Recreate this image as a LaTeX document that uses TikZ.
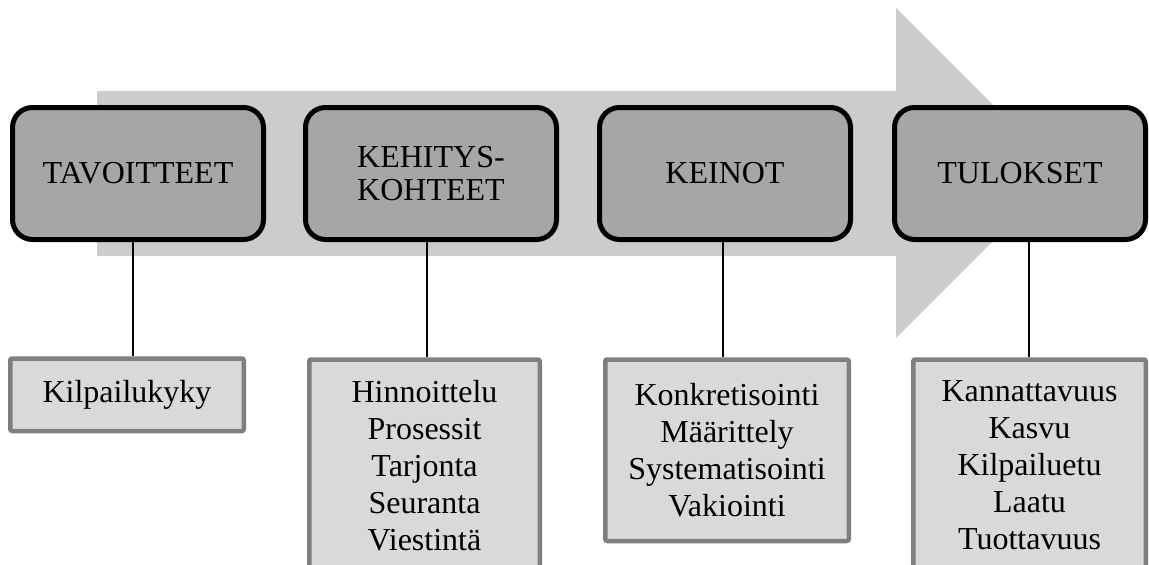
\documentclass[tikz,border=0pt]{standalone}
\usepackage{fontspec}
\setmainfont{Liberation Serif}
\begin{document}
\begin{tikzpicture}[x=1pt,y=-1pt,
  phase/.style={draw=black, line width=5pt, fill=phasegray, rounded corners=20pt,
    minimum width=251pt, minimum height=132pt, align=center, inner sep=0pt,
    font=\fontsize{32}{33}\selectfont},
  itembox/.style={draw=itemedge, line width=4.5pt, fill=itemfill, rounded corners=2pt,
    align=center, inner sep=0pt, anchor=north,
    font=\fontsize{32}{37}\selectfont},
  link/.style={draw=black, line width=1.6pt}]
\definecolor{arrowgray}{HTML}{CCCCCC}
\definecolor{phasegray}{HTML}{A6A6A6}
\definecolor{itemfill}{HTML}{D9D9D9}
\definecolor{itemedge}{HTML}{7F7F7F}
\useasboundingbox (0,0) rectangle (1149,565);
\clip (0,0) rectangle (1149,565);

% background process arrow
\fill[arrowgray] (97,91) -- (896,91) -- (896,8) -- (1061,173) -- (896,338)
  -- (896,256) -- (97,256) -- cycle;

% phase boxes
\node[phase] (tav) at (138,173.5) {TAVOITTEET};
\node[phase] (keh) at (431,173.5) {KEHITYS-\\KOHTEET};
\node[phase] (kei) at (725,173.5) {KEINOT};
\node[phase] (tul) at (1020,173.5) {TULOKSET};

% detail boxes
\node[itembox, minimum width=233.5pt, minimum height=72.5pt] (kil) at (127,356.25)
  {Kilpailukyky};
\node[itembox, minimum width=230.5pt, minimum height=212pt] (hin) at (424.5,357.25)
  {Hinnoittelu\\Prosessit\\Tarjonta\\Seuranta\\Viestintä};
\node[itembox, minimum width=243.5pt, minimum height=181.5pt] (kon) at (727,357.25)
  {Konkretisointi\\Määrittely\\Systematisointi\\Vakiointi};
\node[itembox, minimum width=232.5pt, minimum height=212pt] (kan) at (1029.5,357.25)
  {Kannattavuus\\Kasvu\\Kilpailuetu\\Laatu\\Tuottavuus};

% connectors
\draw[link] ([xshift=-5pt]tav.south) -- ([xshift=-5pt]tav.south |- kil.north);
\draw[link] ([xshift=-4pt]keh.south) -- ([xshift=-4pt]keh.south |- hin.north);
\draw[link] ([xshift=-2pt]kei.south) -- ([xshift=-2pt]kei.south |- kon.north);
\draw[link] ([xshift=9pt]tul.south) -- ([xshift=9pt]tul.south |- kan.north);
\end{tikzpicture}
\end{document}
